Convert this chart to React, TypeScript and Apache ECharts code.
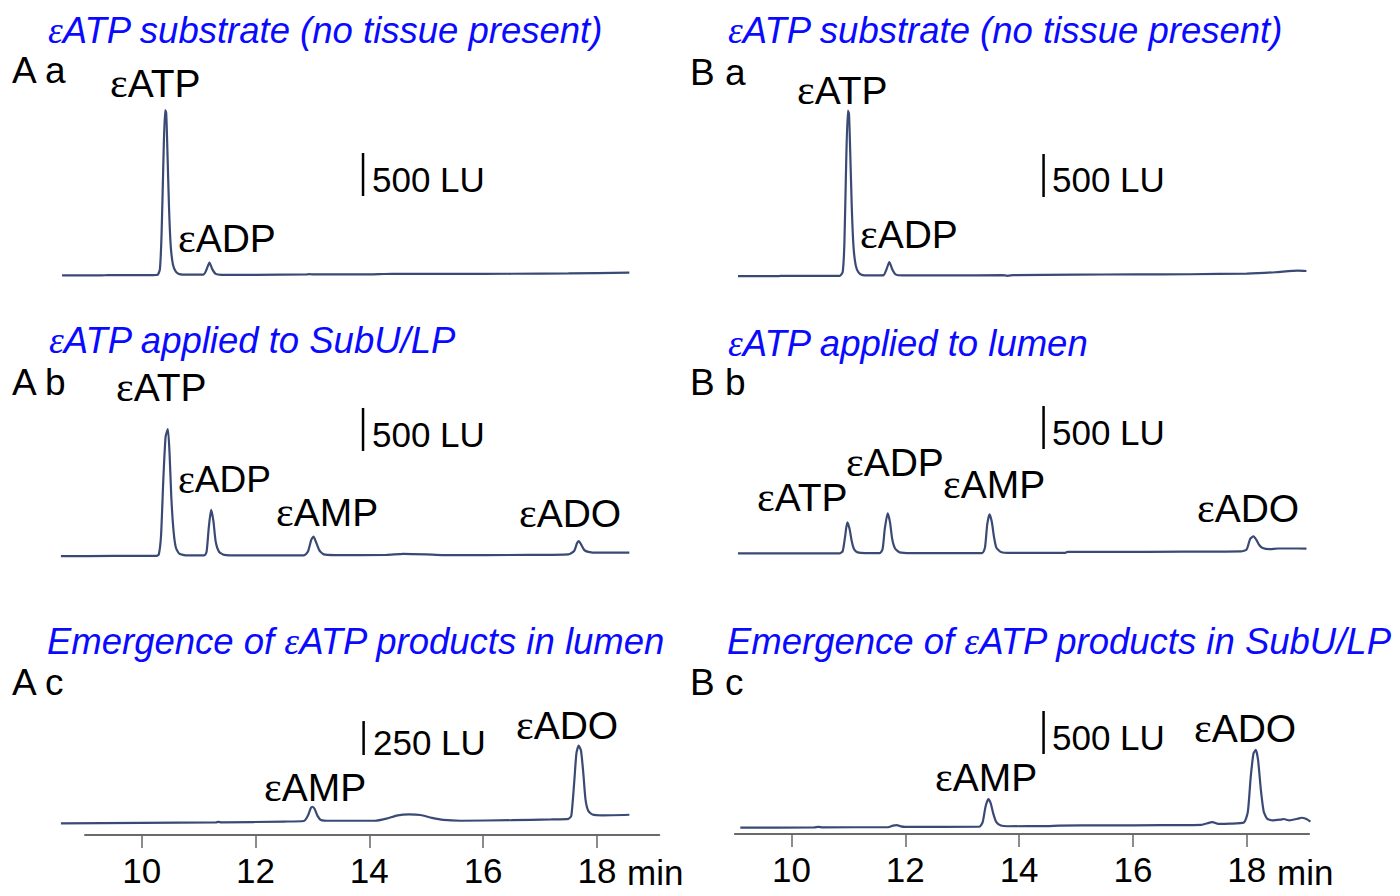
import React, { useEffect, useRef } from "react";
import * as echarts from "echarts";

// ---------- data (retention time in min, fluorescence in LU) ----------
const traceAa: [number, number][] = [
  [8.6, 8], [9.3, 8], [9.4, 10], [10.2, 10], [10.28, 14], [10.32, 80], [10.35, 500], [10.38, 1300],
  [10.41, 1930], [10.43, 1900], [10.45, 1500], [10.48, 800], [10.51, 350], [10.55, 130], [10.6, 50],
  [10.66, 22], [10.8, 15], [11.08, 15], [11.13, 60], [11.19, 155], [11.24, 80], [11.3, 25], [11.4, 14],
  [12.0, 14], [12.9, 18], [12.95, 22], [13.0, 18], [14.0, 20], [14.4, 26], [14.6, 24], [15.5, 24],
  [16.5, 26], [17.5, 30], [18.57, 40],
];
const traceAb: [number, number][] = [
  [8.58, 10], [9.5, 12], [10.25, 12], [10.3, 30], [10.34, 250], [10.38, 900], [10.42, 1400], [10.46, 1488],
  [10.49, 1200], [10.52, 700], [10.56, 300], [10.6, 110], [10.66, 40], [10.8, 18], [11.1, 18], [11.14, 60],
  [11.18, 350], [11.22, 547], [11.26, 420], [11.3, 180], [11.36, 60], [11.45, 25], [11.7, 18], [12.85, 18],
  [12.92, 60], [12.98, 200], [13.02, 236], [13.06, 180], [13.12, 80], [13.2, 30], [13.4, 22], [14.3, 24],
  [14.6, 36], [15.0, 30], [15.3, 22], [16.8, 24], [17.5, 30], [17.6, 70], [17.65, 160], [17.68, 186],
  [17.72, 150], [17.78, 80], [17.85, 60], [18.0, 50], [18.57, 52],
];
const traceAc: [number, number][] = [
  [8.58, 5], [10.0, 8], [11.3, 12], [11.35, 16], [11.4, 12], [12.5, 18], [12.85, 22], [12.92, 60],
  [12.97, 115], [13.0, 127], [13.04, 110], [13.09, 60], [13.15, 30], [13.3, 24], [14.1, 24], [14.3, 40],
  [14.5, 64], [14.7, 71], [14.9, 66], [15.1, 45], [15.3, 30], [15.6, 24], [16.5, 28], [17.2, 34],
  [17.5, 38], [17.55, 60], [17.6, 300], [17.64, 520], [17.68, 576], [17.72, 540], [17.76, 380],
  [17.8, 180], [17.85, 95], [17.92, 70], [18.1, 64], [18.57, 68],
];
const traceBa: [number, number][] = [
  [9.06, 10], [9.78, 10], [9.8, 14], [10.85, 14], [10.9, 60], [10.93, 400], [10.96, 1300], [10.99, 1934],
  [11.01, 1900], [11.03, 1500], [11.06, 800], [11.09, 350], [11.13, 130], [11.18, 50], [11.25, 22],
  [11.5, 18], [11.62, 22], [11.67, 90], [11.72, 174], [11.77, 90], [11.83, 30], [11.95, 18], [12.8, 18],
  [13.7, 22], [13.8, 14], [13.9, 22], [15.0, 28], [16.0, 30], [17.0, 32], [18.0, 40], [18.5, 55],
  [18.9, 75], [19.05, 70],
];
const traceBb: [number, number][] = [
  [9.06, 14], [10.85, 14], [10.9, 40], [10.94, 200], [10.98, 374], [11.02, 300], [11.06, 150], [11.1, 60],
  [11.16, 25], [11.3, 16], [11.55, 16], [11.6, 60], [11.64, 300], [11.69, 479], [11.73, 380], [11.77, 180],
  [11.82, 70], [11.9, 25], [12.1, 16], [13.35, 16], [13.4, 80], [13.44, 350], [13.48, 467], [13.52, 380],
  [13.56, 200], [13.6, 80], [13.68, 30], [13.85, 18], [14.8, 18], [14.85, 30], [15.6, 30], [16.9, 33],
  [17.9, 36], [18.0, 60], [18.06, 180], [18.12, 212], [18.17, 170], [18.22, 110], [18.28, 75],
  [18.4, 62], [18.55, 70], [18.9, 70], [19.05, 68],
];
const traceBc: [number, number][] = [
  [9.1, 15], [10.4, 18], [10.47, 24], [10.55, 20], [11.7, 22], [11.78, 40], [11.85, 46], [11.92, 30],
  [12.0, 24], [13.3, 26], [13.36, 80], [13.41, 260], [13.46, 349], [13.5, 300], [13.55, 170], [13.6, 80],
  [13.68, 40], [13.8, 32], [14.5, 34], [14.7, 40], [15.5, 42], [16.5, 44], [17.2, 48], [17.4, 80],
  [17.5, 60], [17.7, 62], [17.95, 75], [18.02, 200], [18.07, 600], [18.12, 880], [18.16, 919],
  [18.2, 800], [18.25, 450], [18.3, 200], [18.36, 120], [18.45, 100], [18.6, 110], [18.65, 116],
  [18.75, 100], [18.9, 120], [18.96, 131], [19.05, 115], [19.12, 85],
];

// scale bars [time, bottom LU, top LU]
const scaleBarAa = [13.89, 930, 1430];
const scaleBarAb = [13.89, 1233, 1733];
const scaleBarAc = [13.9, 507, 757];
const scaleBarBa = [14.43, 930, 1430];
const scaleBarBb = [14.43, 1227, 1727];
const scaleBarBc = [14.43, 872, 1372];
const scaleLabels = ["500 LU", "500 LU", "250 LU", "500 LU", "500 LU", "500 LU"];

const titles = [
  "εATP substrate (no tissue present)",
  "εATP applied to SubU/LP",
  "Emergence of εATP products in lumen",
  "εATP substrate (no tissue present)",
  "εATP applied to lumen",
  "Emergence of εATP products in SubU/LP",
];
const panelLabels = ["A a", "A b", "A c", "B a", "B b", "B c"];
const peaksAa = ["εATP", "εADP"];
const peaksAb = ["εATP", "εADP", "εAMP", "εADO"];
const peaksAc = ["εAMP", "εADO"];
const peaksBa = ["εATP", "εADP"];
const peaksBb = ["εATP", "εADP", "εAMP", "εADO"];
const peaksBc = ["εAMP", "εADO"];
const tickValues = [10, 12, 14, 16, 18];
const unitLabel = "min";

// ---------- styling ----------
const SANS = "'Liberation Sans', Arial, sans-serif";
const SERIF = "'Liberation Serif', 'Times New Roman', serif";
const TRACE = "#3a4a74";
const BLUE = "#0a0aff";

function epsText(
  text: string, x: number, y: number, size: number, epsSize: number,
  color: string, italic: boolean, lineHeight: number
) {
  const parts = text.split("ε");
  let rt = "";
  parts.forEach((p, i) => {
    if (i > 0) rt += "{e|ε}";
    if (p.length) rt += `{t|${p}}`;
  });
  const fs = italic ? "italic" : "normal";
  return {
    type: "text",
    x,
    y,
    style: {
      text: rt,
      align: "left",
      verticalAlign: "middle",
      rich: {
        e: { fontFamily: SERIF, fontSize: epsSize, fontStyle: fs, fill: color, lineHeight },
        t: { fontFamily: SANS, fontSize: size, fontStyle: fs, fill: color, lineHeight },
      },
    },
  };
}

function plainText(text: string, x: number, y: number, size: number) {
  return {
    type: "text",
    x,
    y,
    style: { text, fontFamily: SANS, fontSize: size, fill: "#000", align: "left", verticalAlign: "middle" },
  };
}

export default function App() {
  const ref = useRef<HTMLDivElement>(null);
  useEffect(() => {
    if (!ref.current) return;
    const chart = echarts.init(ref.current, undefined, { renderer: "svg" });

    const PX_MIN = 56.9;
    const leftX0 = 141.7; // pixel of 10 min, left column
    const rightX0 = 791.5; // pixel of 10 min, right column
    const tMin = 8.5;
    const tMax = 19.2;
    const w = (tMax - tMin) * PX_MIN;
    const k = 0.086; // px per LU
    const kc = 0.136; // px per LU for panel A c

    const panels = [
      { x0: leftX0, base: 276, yMax: 2200, k, data: traceAa, bar: scaleBarAa },
      { x0: leftX0, base: 557, yMax: 1800, k, data: traceAb, bar: scaleBarAb },
      { x0: leftX0, base: 824, yMax: 800, k: kc, data: traceAc, bar: scaleBarAc },
      { x0: rightX0, base: 277, yMax: 2200, k, data: traceBa, bar: scaleBarBa },
      { x0: rightX0, base: 554.5, yMax: 1800, k, data: traceBb, bar: scaleBarBb },
      { x0: rightX0, base: 829, yMax: 1500, k, data: traceBc, bar: scaleBarBc },
    ];

    const grid: any[] = [];
    const xAxis: any[] = [];
    const yAxis: any[] = [];
    const series: any[] = [];

    panels.forEach((p, i) => {
      const h = p.yMax * p.k;
      grid.push({ left: p.x0 - (10 - tMin) * PX_MIN, top: p.base - h, width: w, height: h });
      xAxis.push({ type: "value", gridIndex: i, min: tMin, max: tMax, show: false });
      yAxis.push({ type: "value", gridIndex: i, min: 0, max: p.yMax, show: false });
      series.push({
        type: "line",
        xAxisIndex: i,
        yAxisIndex: i,
        data: p.data,
        showSymbol: false,
        smooth: 0.2,
        clip: false,
        lineStyle: { color: TRACE, width: 2.2 },
        silent: true,
      });
      series.push({
        type: "line",
        xAxisIndex: i,
        yAxisIndex: i,
        data: [
          [p.bar[0], p.bar[1]],
          [p.bar[0], p.bar[2]],
        ],
        showSymbol: false,
        clip: false,
        lineStyle: { color: "#000", width: 2.5 },
        silent: true,
      });
    });

    // bottom time axes
    const axisDefs = [
      { x0: leftX0, y: 835 },
      { x0: rightX0, y: 834 },
    ];
    axisDefs.forEach((a, j) => {
      const gi = 6 + j;
      grid.push({ left: a.x0 - PX_MIN, top: a.y - 30, width: 10.1 * PX_MIN, height: 30 });
      xAxis.push({
        type: "value",
        gridIndex: gi,
        min: 9,
        max: 19.1,
        position: "bottom",
        axisLine: { show: true, onZero: false, lineStyle: { color: "#3a3a3a", width: 1.5 } },
        axisTick: {
          show: true,
          customValues: tickValues,
          length: 13,
          lineStyle: { color: "#666", width: 1.5 },
        },
        axisLabel: {
          show: true,
          customValues: tickValues,
          fontSize: 35,
          fontFamily: SANS,
          color: "#000",
          margin: 18,
          formatter: (v: number) => String(v),
        },
        splitLine: { show: false },
      });
      yAxis.push({ type: "value", gridIndex: gi, min: 0, max: 1, show: false });
    });

    const graphic: any[] = [];
    const titlePos = [
      [48, 30], [49, 340], [47, 641], [728, 30], [728, 343], [727, 641],
    ];
    titles.forEach((t, i) =>
      graphic.push(epsText(t, titlePos[i][0], titlePos[i][1], 36.5, 37.5, BLUE, true, 40))
    );
    const panelPos = [
      [12, 70], [12, 382], [12, 682], [690, 72], [690, 382], [690, 682],
    ];
    panelLabels.forEach((t, i) => graphic.push(plainText(t, panelPos[i][0], panelPos[i][1], 37)));
    const scalePos = [
      [372, 179], [372, 434], [373, 742], [1052, 179], [1052, 432], [1052, 737],
    ];
    scaleLabels.forEach((t, i) => graphic.push(plainText(t, scalePos[i][0], scalePos[i][1], 35)));
    // [x, y, fontSize]
    const peakSets: [string[], number[][]][] = [
      [peaksAa, [[110, 83, 39], [178, 238, 39]]],
      [peaksAb, [[116, 387, 39], [178, 479, 37], [276, 512, 39], [519, 513, 39]]],
      [peaksAc, [[264, 787, 39], [516, 725, 39]]],
      [peaksBa, [[797, 90, 39], [860, 234, 39]]],
      [peaksBb, [[757, 497, 39], [846, 462, 39], [943, 484, 39], [1197, 508, 39]]],
      [peaksBc, [[935, 777, 39], [1194, 728, 39]]],
    ];
    peakSets.forEach(([names, pos]) =>
      names.forEach((n, i) =>
        graphic.push(epsText(n, pos[i][0], pos[i][1], pos[i][2], pos[i][2] + 3, "#000", false, 30))
      )
    );
    graphic.push(plainText(unitLabel, 627, 872, 35));
    graphic.push(plainText(unitLabel, 1277, 872, 35));

    chart.setOption({
      animation: false,
      backgroundColor: "#ffffff",
      grid,
      xAxis,
      yAxis,
      series,
      graphic,
    });
    return () => chart.dispose();
  }, []);
  return (
    <div
      ref={ref}
      style={{ position: "absolute", left: 0, top: 0, width: 1400, height: 896, background: "#fff" }}
    />
  );
}
